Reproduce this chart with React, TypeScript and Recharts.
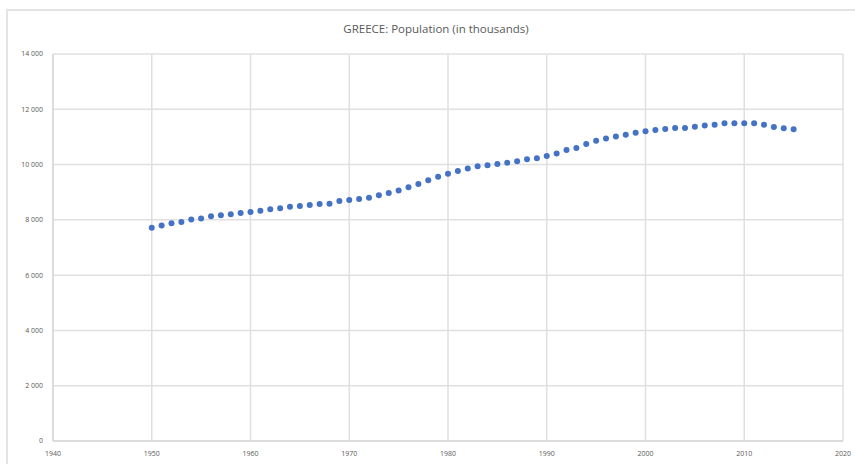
import { ScatterChart, Scatter, XAxis, YAxis, CartesianGrid } from 'recharts';

const years = [
  1950, 1951, 1952, 1953, 1954, 1955, 1956, 1957, 1958, 1959,
  1960, 1961, 1962, 1963, 1964, 1965, 1966, 1967, 1968, 1969,
  1970, 1971, 1972, 1973, 1974, 1975, 1976, 1977, 1978, 1979,
  1980, 1981, 1982, 1983, 1984, 1985, 1986, 1987, 1988, 1989,
  1990, 1991, 1992, 1993, 1994, 1995, 1996, 1997, 1998, 1999,
  2000, 2001, 2002, 2003, 2004, 2005, 2006, 2007, 2008, 2009,
  2010, 2011, 2012, 2013, 2014, 2015,
];

// population in thousands
const population = [
  7716, 7800, 7876, 7925, 8010, 8045, 8130, 8166, 8200, 8250,
  8285, 8333, 8380, 8420, 8478, 8500, 8540, 8575, 8580, 8680,
  8720, 8755, 8800, 8890, 8970, 9060, 9180, 9300, 9430, 9560,
  9670, 9770, 9855, 9940, 9975, 10020, 10070, 10120, 10190, 10230,
  10310, 10400, 10530, 10600, 10745, 10860, 10940, 11020, 11080, 11155,
  11205, 11250, 11290, 11325, 11325, 11370, 11410, 11445, 11495, 11495,
  11495, 11495, 11445, 11360, 11315, 11280,
];

const xTicks = [1940, 1950, 1960, 1970, 1980, 1990, 2000, 2010, 2020];
const yTicks = [0, 2000, 4000, 6000, 8000, 10000, 12000, 14000];

const data = years.map((year, i) => ({ year, value: population[i] }));

const tickStyle = { fontSize: 7, fill: '#595959', fontFamily: 'Open Sans' };

const fmtThousands = (v: number) => String(v).replace(/\B(?=(\d{3})+(?!\d))/g, ' ');

const Dot = (props: any) => <circle cx={props.cx} cy={props.cy} r={3} fill="#4472C4" />;

export default function App() {
  return (
    <div style={{ position: 'absolute', left: 0, top: 0, width: 855, height: 464, background: '#fff', overflow: 'hidden' }}>
      <div
        style={{
          position: 'absolute',
          left: 6,
          top: 9,
          width: 870,
          height: 480,
          border: '2px solid #e4e4e4',
        }}
      />
      <div
        style={{
          position: 'absolute',
          left: 0,
          width: 872,
          top: 21,
          textAlign: 'center',
          fontFamily: 'Open Sans',
          fontSize: 11.5,
          color: '#595959',
        }}
      >
        GREECE: Population (in thousands)
      </div>
      <div style={{ position: 'absolute', left: 0, top: 0 }}>
        <ScatterChart width={855} height={464} margin={{ top: 54, right: 12, bottom: 3, left: 0 }}>
          <CartesianGrid stroke="#e0e0e0" strokeWidth={1.5} />
          <XAxis
            type="number"
            dataKey="year"
            domain={[1940, 2020]}
            ticks={xTicks}
            tickLine={false}
            axisLine={{ stroke: '#d9d9d9', strokeWidth: 1.5 }}
            tick={tickStyle}
            tickMargin={4}
            height={20}
            interval={0}
          />
          <YAxis
            type="number"
            dataKey="value"
            domain={[0, 14000]}
            ticks={yTicks}
            tickFormatter={fmtThousands}
            tickLine={false}
            axisLine={{ stroke: '#d9d9d9', strokeWidth: 1.5 }}
            tick={tickStyle}
            tickMargin={4}
            width={53}
            interval={0}
          />
          <Scatter data={data} shape={Dot} isAnimationActive={false} />
        </ScatterChart>
      </div>
    </div>
  );
}
